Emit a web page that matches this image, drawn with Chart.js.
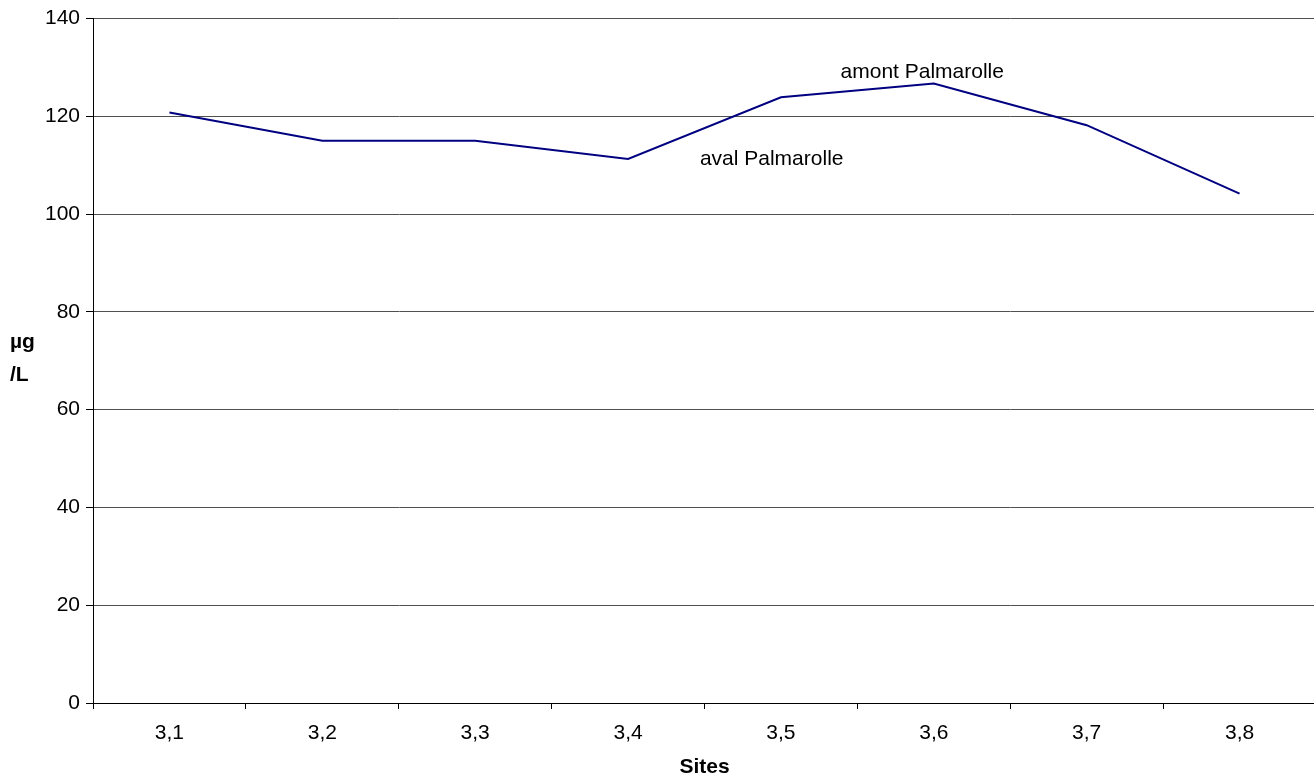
<!DOCTYPE html>
<html>
<head>
<meta charset="utf-8">
<script src="https://cdn.jsdelivr.net/npm/chart.js@4"></script>
<style>
    html, body { margin: 0; padding: 0; background: #fff; overflow: hidden; }
    #wrap { width: 1314px; height: 774px; overflow: hidden; }
    canvas { display: block; }
</style>
</head>
<body>
<div id="wrap"><canvas id="siteChart" width="1320" height="780"></canvas></div>
<script>
// Sites and measured concentrations (µg/L)
const sites = ['3,1', '3,2', '3,3', '3,4', '3,5', '3,6', '3,7', '3,8'];
const concentrations = [120.8, 115.0, 115.0, 111.3, 123.9, 126.7, 118.2, 104.2];
const yTicks = [0, 20, 40, 60, 80, 100, 120, 140];

// Free text notes placed on the plot (x as site position, y in µg/L)
const notes = [
    { text: 'amont Palmarolle', x: 4.39, y: 129.0 },
    { text: 'aval Palmarolle', x: 3.47, y: 111.2 }
];

const FONT = 'Liberation Sans, Arial, sans-serif';
const SIZE = 21;

// Draws the horizontal unit label and the notes
const extraText = {
    id: 'extraText',
    afterDraw(chart) {
        const ctx = chart.ctx;
        const xs = chart.scales.x;
        const ys = chart.scales.y;
        ctx.save();
        ctx.fillStyle = '#000';
        ctx.textBaseline = 'middle';
        ctx.textAlign = 'left';
        ctx.font = 'bold ' + SIZE + 'px ' + FONT;
        ctx.fillText('µg', 10, 342);
        ctx.fillText('/L', 10, 375);
        ctx.font = SIZE + 'px ' + FONT;
        notes.forEach(n => {
            ctx.fillText(n.text, xs.getPixelForValue(n.x), ys.getPixelForValue(n.y));
        });
        ctx.restore();
    }
};

function initializeChart() {
    const ctx = document.getElementById('siteChart').getContext('2d');
    new Chart(ctx, {
        type: 'line',
        data: {
            labels: sites,
            datasets: [{
                data: concentrations,
                borderColor: '#000080',
                borderWidth: 2,
                pointRadius: 0,
                fill: false,
                tension: 0
            }]
        },
        options: {
            responsive: false,
            animation: false,
            layout: { padding: { left: 0, top: 15, right: 4, bottom: 0 } },
            plugins: {
                legend: { display: false },
                tooltip: { enabled: false }
            },
            scales: {
                x: {
                    offset: true,
                    grid: {
                        offset: true,
                        drawOnChartArea: false,
                        drawTicks: true,
                        tickLength: 6,
                        tickColor: '#000'
                    },
                    border: { color: '#000', width: 1 },
                    ticks: {
                        color: '#000',
                        font: { family: FONT, size: SIZE },
                        maxRotation: 0,
                        padding: 12
                    },
                    title: {
                        display: true,
                        text: 'Sites',
                        color: '#000',
                        font: { family: FONT, size: SIZE, weight: 'bold' },
                        padding: 0
                    },
                    afterFit(scale) { scale.height = 77; }
                },
                y: {
                    min: 0,
                    max: 140,
                    afterBuildTicks(scale) {
                        scale.ticks = yTicks.map(v => ({ value: v }));
                    },
                    grid: {
                        color: '#505050',
                        tickColor: '#000',
                        tickLength: 7,
                        lineWidth: 1
                    },
                    border: { color: '#000', width: 1 },
                    ticks: {
                        color: '#000',
                        font: { family: FONT, size: SIZE },
                        padding: 6
                    },
                    afterFit(scale) { scale.width = 93; }
                }
            }
        },
        plugins: [extraText]
    });
}

window.onload = function () {
    initializeChart();
};
</script>
</body>
</html>
